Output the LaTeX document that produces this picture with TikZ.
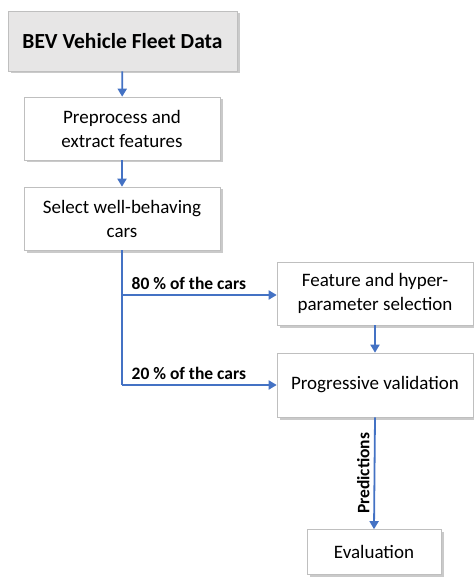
\documentclass[tikz,border=0pt]{standalone}
\usepackage{fontspec}
\setmainfont{Carlito}
\usetikzlibrary{arrows.meta,shadows}
\definecolor{lineblue}{HTML}{4472C4}
\definecolor{boxborder}{HTML}{BFBFBF}
\definecolor{boxgray}{HTML}{E7E6E6}
\begin{document}
\begin{tikzpicture}[x=1pt,y=-1pt,
  box/.style={draw=boxborder, line width=0.6pt, fill=white, align=center, font=\fontsize{19}{24}\selectfont,
    inner sep=2pt, drop shadow={shadow xshift=2.5pt, shadow yshift=-2.5pt, opacity=0.35, fill=black!60}},
  conn/.style={draw=lineblue, line width=1.8pt, -{Triangle[width=9pt,length=8pt]}},
  plain/.style={draw=lineblue, line width=1.8pt},
  lbl/.style={font=\bfseries\fontsize{17.5}{20}\selectfont, inner sep=1pt}]
\useasboundingbox (0,0) rectangle (473,577);
\node[box, fill=boxgray, minimum width=229pt, minimum height=60pt, font=\bfseries\fontsize{21.5}{26}\selectfont] (bev) at (122.5,41) {BEV Vehicle Fleet Data};
\node[box, minimum width=196pt, minimum height=63pt] (pre) at (122,128.5) {Preprocess and\\extract features};
\node[box, minimum width=196pt, minimum height=63pt] (sel) at (122,218.5) {Select well-behaving\\cars};
\node[box, minimum width=196pt, minimum height=63pt] (feat) at (375,293.5) {Feature and hyper-\\parameter selection};
\node[box, minimum width=196pt, minimum height=64pt] (prog) at (375,385) {Progressive validation};
\node[box, minimum width=134pt, minimum height=45pt] (eval) at (374,552) {Evaluation};
\coordinate (j1) at (122,295);
\coordinate (j2) at (122,385);
\draw[conn] (bev) -- (pre);
\draw[conn] (pre) -- (sel);
\draw[plain] (sel.south) -- (j2);
\draw[conn] (j1) -- node[lbl, pos=0.05, anchor=south west, yshift=3pt] (l80) {80 \% of the cars} (feat.west |- j1);
\draw[conn] (j2) -- node[lbl, pos=0.05, anchor=south west, yshift=3pt] (l20) {20 \% of the cars} (prog.west);
\draw[conn] (feat) -- (prog);
\draw[conn] (prog.south) -- node[lbl, midway, rotate=90, anchor=south, yshift=3pt] (pred) {Predictions} (eval.north);
\end{tikzpicture}
\end{document}
